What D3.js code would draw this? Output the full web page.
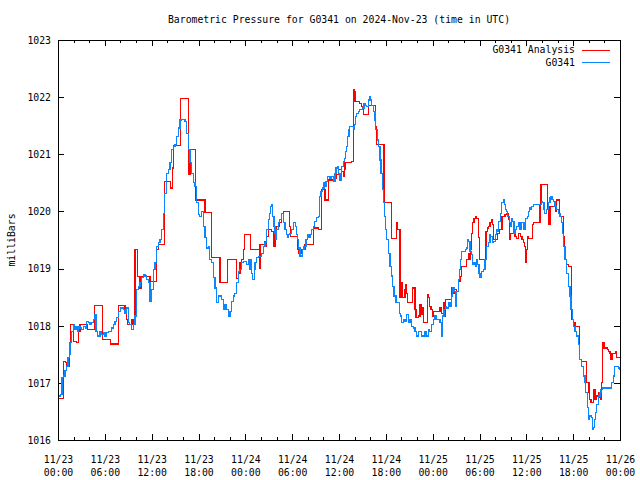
<!DOCTYPE html>
<html><head><meta charset="utf-8">
<script src="https://cdn.jsdelivr.net/npm/d3@7"></script>
<style>
body{margin:0;background:#fff}
svg{display:block}
text{font-family:"DejaVu Sans Mono","Liberation Mono",monospace;font-size:9.8px;fill:#000}
</style>
</head><body><svg id="c" width="640" height="480"></svg>
<script>
const title = "Barometric Pressure for G0341 on 2024-Nov-23 (time in UTC)";
const yLabel = "milliBars";
const seriesNames = ["G0341 Analysis", "G0341"];
const seriesColors = ["#ff0000", "#0a86ff"];
const startTime = "2024-11-23T00:00:00Z";
const endTime = "2024-11-26T00:00:00Z";
const yDomain = [1016, 1023];
const yTicks = [1016, 1017, 1018, 1019, 1020, 1021, 1022, 1023];

// [minutes since 2024-11-23 00:00 UTC, millibars]
const analysis = [[8,1016.72],[41,1017.38],[61,1017.35],[67,1017.29],[87,1017.64],[97,1018.02],[118,1017.73],[143,1017.70],[156,1017.90],[169,1018.02],[225,1017.93],[279,1018.35],[343,1017.76],[407,1017.68],[464,1018.36],[515,1018.25],[528,1018.11],[535,1018.02],[569,1018.11],[584,1018.02],[592,1019.34],[610,1018.86],[630,1018.66],[643,1018.86],[707,1018.78],[758,1019.33],[771,1019.42],[822,1020.52],[866,1020.41],[881,1020.76],[886,1021.15],[945,1021.98],[1002,1020.84],[1007,1020.64],[1015,1021.08],[1058,1020.20],[1130,1019.98],[1181,1019.19],[1245,1018.75],[1304,1019.16],[1373,1018.83],[1386,1018.92],[1399,1019.10],[1412,1019.16],[1425,1019.33],[1437,1019.59],[1483,1019.33],[1548,1019.01],[1553,1019.42],[1591,1019.48],[1599,1019.39],[1604,1019.56],[1617,1019.68],[1642,1019.65],[1660,1019.39],[1668,1019.68],[1681,1019.74],[1706,1019.81],[1719,1019.97],[1732,1020.00],[1778,1019.74],[1788,1019.56],[1842,1019.33],[1847,1019.27],[1873,1019.33],[1899,1019.42],[1963,1019.71],[2001,1019.68],[2027,1020.38],[2052,1020.20],[2080,1020.55],[2129,1020.58],[2142,1020.64],[2155,1020.73],[2180,1020.70],[2193,1020.61],[2201,1020.73],[2206,1020.85],[2257,1020.87],[2270,1022.13],[2275,1022.10],[2283,1021.92],[2321,1021.89],[2334,1021.84],[2347,1021.69],[2390,1021.86],[2444,1021.49],[2449,1021.17],[2506,1020.15],[2567,1019.53],[2603,1019.80],[2608,1019.68],[2629,1018.49],[2641,1018.75],[2649,1018.49],[2667,1018.63],[2672,1018.72],[2680,1018.57],[2688,1018.40],[2723,1018.66],[2744,1018.28],[2752,1018.14],[2770,1018.17],[2783,1018.37],[2790,1018.20],[2801,1018.31],[2808,1018.05],[2842,1018.54],[2849,1018.49],[2859,1018.34],[2867,1018.28],[2877,1018.17],[2885,1018.25],[2924,1018.25],[2936,1018.31],[2949,1018.22],[2962,1018.40],[2975,1018.17],[2982,1018.46],[3026,1018.66],[3034,1018.57],[3044,1018.63],[3064,1018.60],[3077,1018.78],[3090,1018.86],[3103,1019.04],[3141,1019.16],[3154,1019.27],[3162,1019.16],[3172,1019.33],[3180,1019.62],[3187,1019.80],[3198,1019.88],[3208,1019.91],[3218,1019.88],[3231,1019.54],[3239,1019.16],[3290,1019.65],[3300,1019.71],[3308,1019.74],[3321,1019.80],[3334,1019.86],[3341,1019.77],[3346,1019.51],[3380,1019.62],[3392,1019.68],[3413,1019.91],[3436,1019.94],[3449,1019.97],[3462,1019.86],[3469,1019.51],[3479,1019.62],[3513,1019.56],[3526,1019.53],[3538,1019.62],[3556,1019.56],[3567,1019.51],[3577,1019.45],[3585,1019.39],[3592,1019.10],[3603,1019.33],[3610,1019.56],[3618,1019.53],[3646,1019.77],[3654,1019.80],[3705,1020.12],[3713,1020.47],[3764,1020.06],[3774,1019.77],[3782,1020.09],[3823,1020.00],[3833,1020.20],[3854,1019.91],[3884,1019.56],[3895,1019.16],[3910,1019.07],[3923,1019.04],[3948,1018.11],[3966,1018.05],[3974,1017.99],[4012,1017.41],[4025,1017.38],[4064,1017.00],[4082,1016.83],[4089,1016.71],[4097,1016.65],[4115,1016.88],[4128,1016.71],[4141,1016.77],[4153,1016.83],[4161,1016.74],[4174,1016.71],[4179,1017.00],[4187,1017.70],[4197,1017.61],[4222,1017.58],[4233,1017.55],[4243,1017.52],[4251,1017.41],[4261,1017.52],[4289,1017.55],[4294,1017.44],[4318,1017.44]];

const observed = [[8,1016.77],[20,1016.80],[31,1017.09],[41,1017.12],[54,1017.22],[67,1017.29],[77,1017.44],[87,1017.50],[92,1017.70],[105,1017.90],[118,1018.02],[126,1017.93],[138,1017.99],[149,1017.90],[156,1017.99],[169,1017.96],[182,1017.93],[195,1017.99],[208,1017.96],[220,1018.08],[233,1018.05],[246,1018.02],[259,1018.05],[272,1018.11],[284,1018.20],[292,1017.90],[302,1017.82],[323,1017.90],[336,1017.85],[348,1017.88],[361,1017.82],[374,1017.88],[387,1017.90],[400,1017.90],[412,1017.96],[425,1018.02],[438,1018.08],[451,1018.14],[464,1018.25],[477,1018.31],[489,1018.31],[502,1018.28],[515,1018.22],[528,1018.31],[541,1018.05],[553,1018.02],[566,1017.93],[579,1018.02],[592,1018.17],[600,1018.40],[605,1018.63],[617,1018.69],[630,1018.75],[643,1018.84],[656,1018.90],[669,1018.87],[681,1018.81],[694,1018.75],[707,1018.43],[720,1018.63],[733,1018.98],[746,1019.10],[758,1019.39],[771,1019.45],[784,1019.51],[797,1019.68],[810,1019.97],[822,1020.32],[835,1020.67],[848,1020.73],[861,1020.85],[874,1021.08],[886,1021.14],[899,1021.17],[912,1021.31],[925,1021.46],[938,1021.60],[951,1021.61],[963,1021.61],[976,1021.57],[989,1021.37],[1002,1021.08],[1015,1020.85],[1027,1020.67],[1040,1020.50],[1053,1020.44],[1066,1020.15],[1079,1019.94],[1091,1019.91],[1104,1020.00],[1117,1019.74],[1130,1019.54],[1143,1019.36],[1155,1019.39],[1168,1019.16],[1181,1019.10],[1194,1018.84],[1207,1018.66],[1219,1018.40],[1232,1018.52],[1245,1018.52],[1258,1018.46],[1271,1018.28],[1284,1018.37],[1296,1018.28],[1309,1018.17],[1322,1018.25],[1335,1018.43],[1348,1018.52],[1360,1018.57],[1373,1018.75],[1386,1018.95],[1394,1018.98],[1412,1019.10],[1425,1019.13],[1437,1019.13],[1450,1019.07],[1463,1019.16],[1471,1018.98],[1481,1019.16],[1489,1018.92],[1496,1018.81],[1507,1018.98],[1514,1019.10],[1527,1019.19],[1540,1019.21],[1553,1019.21],[1566,1019.27],[1578,1019.39],[1591,1019.45],[1604,1019.68],[1617,1019.86],[1624,1019.97],[1635,1020.09],[1642,1020.12],[1650,1019.91],[1660,1019.74],[1668,1019.62],[1676,1019.51],[1681,1019.68],[1694,1019.80],[1706,1019.86],[1719,1019.97],[1732,1019.80],[1745,1019.68],[1753,1019.59],[1763,1019.54],[1773,1019.59],[1783,1019.62],[1796,1019.68],[1809,1019.80],[1817,1019.80],[1827,1019.74],[1834,1019.59],[1842,1019.51],[1850,1019.36],[1860,1019.22],[1873,1019.22],[1881,1019.33],[1891,1019.39],[1906,1019.51],[1916,1019.59],[1924,1019.54],[1937,1019.59],[1950,1019.68],[1963,1019.74],[1975,1019.83],[1988,1019.89],[2001,1019.91],[2009,1020.26],[2022,1020.35],[2034,1020.41],[2045,1020.50],[2052,1020.44],[2060,1020.53],[2073,1020.61],[2091,1020.58],[2103,1020.61],[2116,1020.53],[2129,1020.67],[2137,1020.76],[2147,1020.79],[2155,1020.67],[2168,1020.55],[2180,1020.79],[2193,1020.87],[2201,1020.93],[2211,1021.05],[2219,1021.14],[2226,1021.31],[2237,1021.43],[2244,1021.49],[2257,1021.49],[2270,1021.43],[2278,1021.52],[2288,1021.66],[2296,1021.72],[2308,1021.75],[2321,1021.78],[2334,1021.78],[2342,1021.81],[2352,1021.89],[2360,1021.86],[2373,1021.84],[2385,1021.95],[2393,1022.01],[2403,1021.95],[2411,1021.86],[2424,1021.75],[2437,1021.60],[2444,1021.43],[2454,1021.25],[2462,1021.14],[2475,1020.90],[2483,1020.67],[2493,1020.38],[2501,1020.15],[2508,1019.91],[2516,1019.68],[2526,1019.51],[2539,1019.27],[2552,1019.04],[2565,1018.87],[2572,1018.69],[2583,1018.52],[2598,1018.40],[2608,1018.40],[2624,1018.22],[2634,1018.17],[2642,1018.05],[2654,1018.11],[2667,1018.08],[2680,1018.20],[2693,1018.05],[2706,1018.11],[2718,1017.99],[2731,1017.96],[2744,1017.90],[2757,1017.82],[2770,1017.90],[2783,1017.90],[2795,1017.82],[2808,1017.82],[2821,1017.90],[2834,1017.82],[2847,1017.93],[2859,1017.90],[2872,1018.02],[2885,1018.11],[2898,1018.17],[2911,1018.11],[2924,1018.11],[2936,1018.05],[2949,1017.82],[2957,1018.17],[2967,1018.28],[2977,1018.34],[2988,1018.31],[3000,1018.40],[3013,1018.34],[3026,1018.52],[3034,1018.66],[3044,1018.60],[3054,1018.34],[3064,1018.60],[3077,1018.81],[3085,1018.98],[3095,1019.16],[3103,1019.30],[3116,1019.30],[3129,1019.33],[3141,1019.36],[3149,1019.51],[3157,1019.48],[3167,1019.30],[3177,1019.24],[3187,1019.07],[3198,1019.10],[3208,1019.04],[3218,1019.16],[3226,1019.07],[3236,1018.92],[3244,1018.84],[3257,1018.95],[3269,1018.98],[3282,1019.16],[3295,1019.39],[3308,1019.45],[3321,1019.59],[3328,1019.56],[3341,1019.45],[3351,1019.48],[3362,1019.59],[3372,1019.68],[3380,1019.65],[3387,1019.83],[3398,1019.97],[3410,1020.15],[3423,1020.20],[3431,1020.12],[3441,1020.03],[3449,1020.00],[3456,1019.91],[3469,1019.80],[3479,1019.74],[3487,1019.88],[3495,1019.83],[3505,1019.62],[3513,1019.68],[3526,1019.74],[3538,1019.80],[3551,1019.68],[3564,1019.80],[3577,1019.68],[3590,1019.80],[3597,1019.88],[3608,1019.91],[3615,1020.00],[3623,1020.06],[3633,1020.03],[3641,1020.09],[3654,1020.12],[3718,1020.18],[3726,1020.15],[3736,1020.03],[3743,1019.97],[3756,1020.03],[3769,1020.15],[3782,1020.24],[3789,1020.26],[3797,1020.21],[3807,1020.18],[3820,1020.09],[3833,1020.03],[3846,1019.97],[3859,1019.91],[3871,1019.80],[3879,1019.62],[3889,1019.39],[3897,1019.16],[3910,1018.92],[3923,1018.69],[3936,1018.52],[3943,1018.28],[3953,1018.11],[3961,1017.99],[3974,1017.90],[3987,1017.82],[3999,1017.67],[4012,1017.41],[4025,1017.29],[4038,1017.12],[4051,1017.00],[4058,1016.83],[4069,1016.57],[4076,1016.36],[4089,1016.42],[4102,1016.39],[4110,1016.19],[4115,1016.22],[4123,1016.36],[4130,1016.48],[4141,1016.62],[4153,1016.77],[4166,1016.83],[4174,1016.88],[4184,1016.91],[4256,1017.00],[4269,1017.12],[4281,1017.29],[4307,1017.26],[4318,1017.23]];

const L = 58, R = 620, T = 40, B = 440;
const svg = d3.select("#c");
const t0 = new Date(startTime), t1 = new Date(endTime);
const toDate = m => new Date(t0.getTime() + m * 60000);

const x = d3.scaleUtc().domain([t0, t1]).range([L, R]);
const y = d3.scaleLinear().domain(yDomain).range([B, T]);

// title
svg.append("text").attr("x", (L + R) / 2).attr("y", 23).attr("text-anchor", "middle").text(title);
// y label
svg.append("text").attr("transform", `translate(15,${(T + B) / 2}) rotate(-90)`)
  .attr("text-anchor", "middle").text(yLabel);

const fmtD = d3.utcFormat("%m/%d"), fmtT = d3.utcFormat("%H:%M");
const major = x.ticks(d3.utcHour.every(6));
const minor = x.ticks(d3.utcHour.every(2));

// bottom axis
svg.append("g").attr("transform", `translate(0,${B})`)
  .call(d3.axisBottom(x).tickValues(minor).tickSize(-3).tickFormat(""));
const gb2 = svg.append("g").attr("transform", `translate(0,${B})`)
  .call(d3.axisBottom(x).tickValues(major).tickSize(-6).tickFormat(""));
gb2.selectAll(".tick").append("text").attr("y", 23).attr("text-anchor", "middle").text(d => fmtD(d));
gb2.selectAll(".tick").append("text").attr("y", 36).attr("text-anchor", "middle").text(d => fmtT(d));
// top axis (mirror)
svg.append("g").attr("transform", `translate(0,${T})`)
  .call(d3.axisTop(x).tickValues(minor).tickSize(-3).tickFormat(""));
svg.append("g").attr("transform", `translate(0,${T})`)
  .call(d3.axisTop(x).tickValues(major).tickSize(-6).tickFormat(""));
// left axis
const gl = svg.append("g").attr("transform", `translate(${L},0)`)
  .call(d3.axisLeft(y).tickValues(yTicks).tickSize(-6).tickPadding(7).tickFormat(d3.format("d")));
// right axis (mirror)
svg.append("g").attr("transform", `translate(${R},0)`)
  .call(d3.axisRight(y).tickValues(yTicks).tickSize(-6).tickFormat(""));

svg.selectAll(".domain").remove();
svg.selectAll(".tick line").attr("stroke", "#000").attr("shape-rendering", "crispEdges");
svg.selectAll(".tick text").attr("font-family", null).attr("font-size", null).attr("fill", "#000");
gl.selectAll(".tick text").attr("dy", "0.34em");

// series
const line = d3.line().curve(d3.curveStepAfter)
  .x(d => x(toDate(d[0]))).y(d => y(d[1]));
[analysis, observed].forEach((s, i) => {
  svg.append("path").datum(s).attr("d", line).attr("fill", "none")
    .attr("stroke", seriesColors[i]).attr("stroke-width", 1.1)
    .attr("shape-rendering", "crispEdges");
});

// frame
svg.append("rect").attr("x", L).attr("y", T).attr("width", R - L).attr("height", B - T)
  .attr("fill", "none").attr("stroke", "#000").attr("shape-rendering", "crispEdges");

// legend
const lg = svg.append("g");
seriesNames.forEach((n, i) => {
  const yy = 50 + i * 12.5;
  lg.append("text").attr("x", 575).attr("y", yy).attr("dy", "0.34em").attr("text-anchor", "end").text(n);
  lg.append("line").attr("x1", 582).attr("x2", 610).attr("y1", yy).attr("y2", yy)
    .attr("stroke", seriesColors[i]).attr("shape-rendering", "crispEdges");
});
</script>
</body></html>
